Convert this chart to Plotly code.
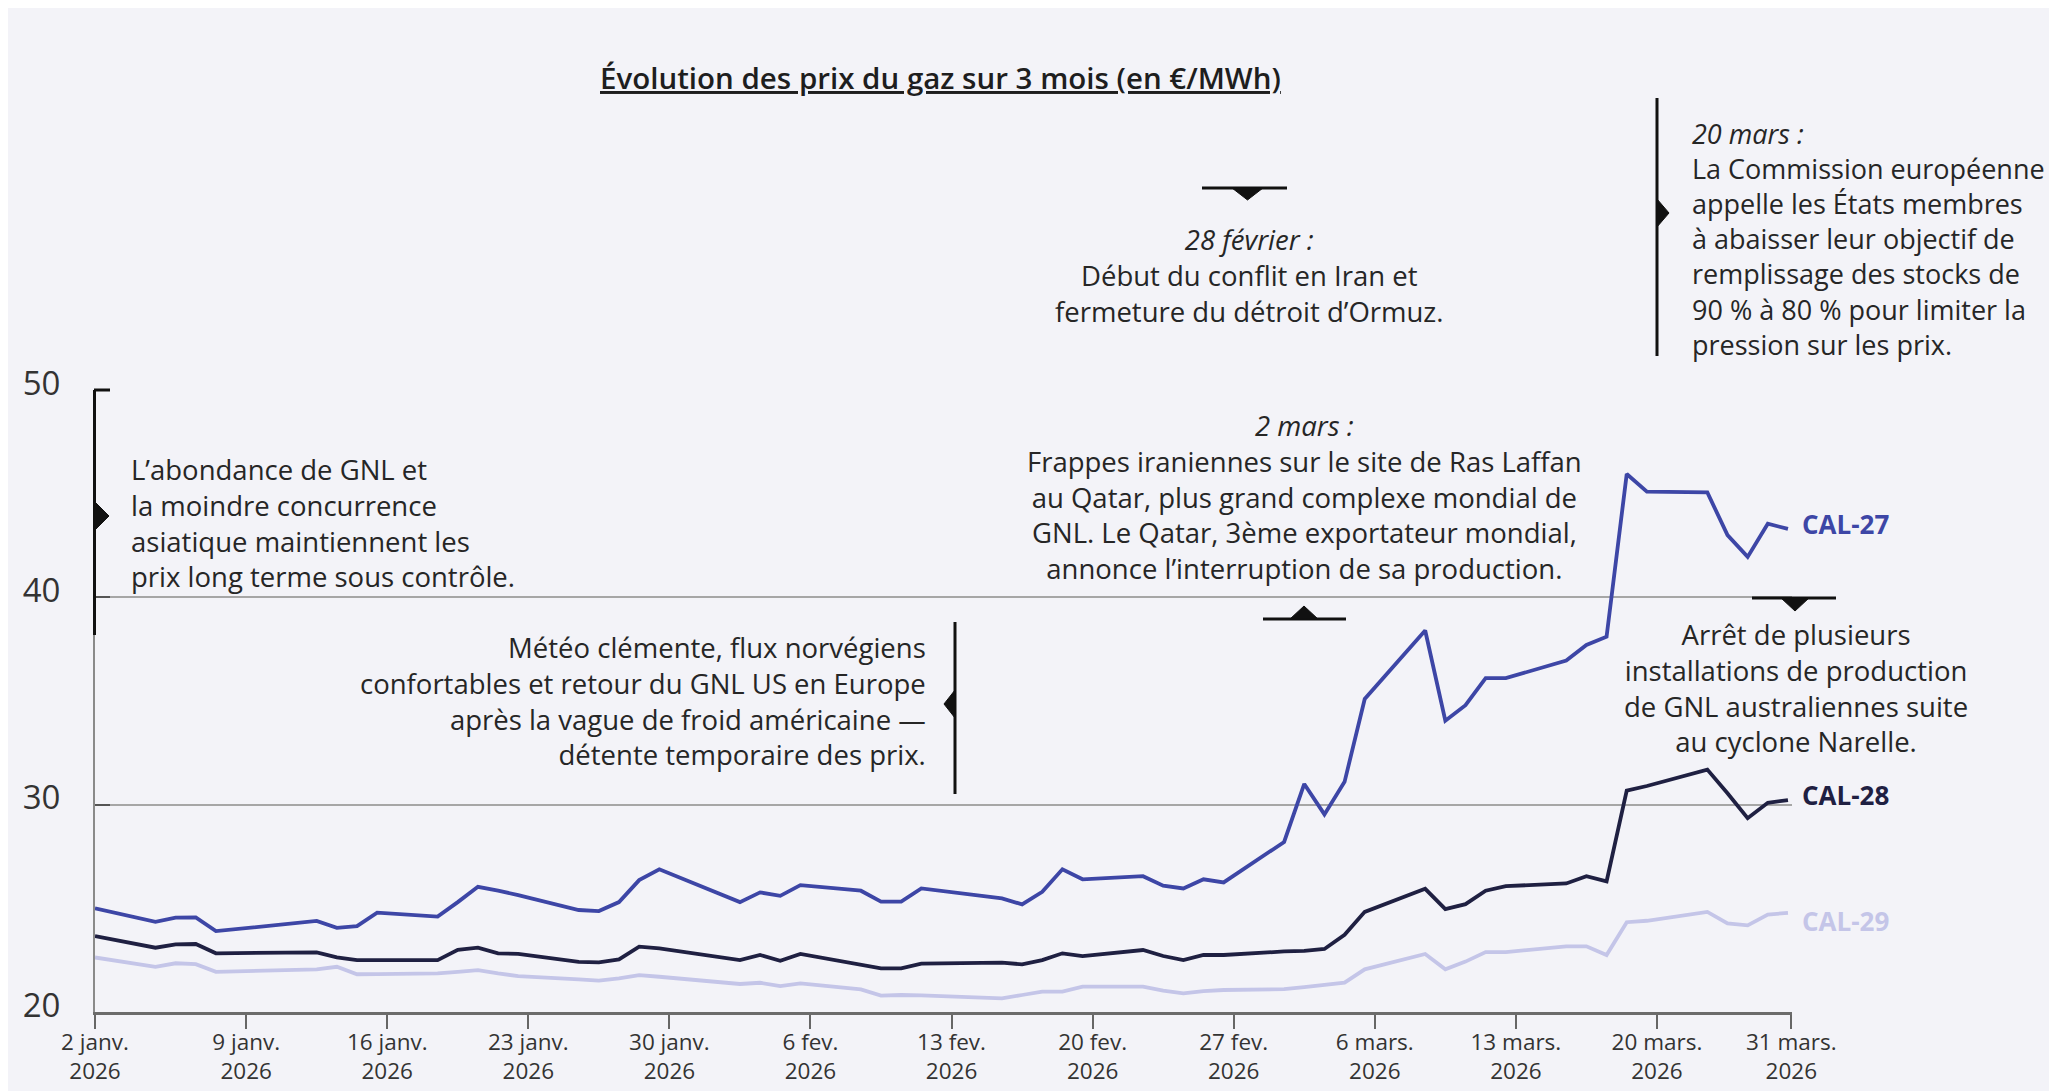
import plotly.graph_objects as go

# --- données ---
dates = ["2026-01-02", "2026-01-05", "2026-01-06", "2026-01-07", "2026-01-08",
         "2026-01-13", "2026-01-14", "2026-01-15", "2026-01-16", "2026-01-19",
         "2026-01-20", "2026-01-21", "2026-01-22", "2026-01-23", "2026-01-26",
         "2026-01-27", "2026-01-28", "2026-01-29", "2026-01-30", "2026-02-03",
         "2026-02-04", "2026-02-05", "2026-02-06", "2026-02-09", "2026-02-10",
         "2026-02-11", "2026-02-12", "2026-02-16", "2026-02-17", "2026-02-18",
         "2026-02-19", "2026-02-20", "2026-02-23", "2026-02-24", "2026-02-25",
         "2026-02-26", "2026-02-27", "2026-03-02", "2026-03-03", "2026-03-04",
         "2026-03-05", "2026-03-06", "2026-03-09", "2026-03-10", "2026-03-11",
         "2026-03-12", "2026-03-13", "2026-03-16", "2026-03-17", "2026-03-18",
         "2026-03-19", "2026-03-20", "2026-03-23", "2026-03-24", "2026-03-25",
         "2026-03-26", "2026-03-27"]

cal27 = [25.0, 24.35, 24.55, 24.56, 23.9, 24.39, 24.06, 24.14, 24.79, 24.6,
         25.3, 26.04, 25.85, 25.64, 24.92, 24.87, 25.3, 26.36, 26.88, 25.3,
         25.77, 25.6, 26.12, 25.85, 25.32, 25.32, 25.96, 25.48, 25.19, 25.8,
         26.88, 26.4, 26.55, 26.09, 25.96, 26.4, 26.25, 28.2, 31.0, 29.53,
         31.1, 35.1, 38.4, 34.05, 34.8, 36.1, 36.1, 36.95, 37.7, 38.1,
         45.95, 45.1, 45.06, 43.0, 41.95, 43.55, 43.3]

cal28 = [23.66, 23.1, 23.26, 23.28, 22.83, 22.88, 22.64, 22.5, 22.5, 22.5,
         23.0, 23.1, 22.83, 22.8, 22.42, 22.39, 22.54, 23.15, 23.07, 22.5,
         22.75, 22.47, 22.8, 22.27, 22.1, 22.1, 22.33, 22.38, 22.3, 22.5,
         22.83, 22.7, 22.99, 22.7, 22.5, 22.75, 22.75, 22.92, 22.95, 23.04,
         23.72, 24.83, 25.94, 24.96, 25.2, 25.85, 26.07, 26.2, 26.55, 26.3,
         30.68, 30.9, 31.69, 30.55, 29.35, 30.09, 30.22]

cal29 = [22.63, 22.18, 22.35, 22.31, 21.94, 22.06, 22.18, 21.82, 21.83, 21.86,
         21.94, 22.02, 21.86, 21.73, 21.57, 21.51, 21.62, 21.78, 21.7, 21.35,
         21.41, 21.25, 21.38, 21.09, 20.79, 20.82, 20.8, 20.66, 20.82, 20.98,
         20.98, 21.22, 21.22, 21.03, 20.9, 21.01, 21.06, 21.1, 21.2, 21.33,
         21.42, 22.06, 22.8, 22.06, 22.43, 22.89, 22.89, 23.17, 23.17, 22.75,
         24.33, 24.4, 24.83, 24.27, 24.18, 24.7, 24.78]

tick_dates = ["2026-01-02", "2026-01-09 12:00", "2026-01-16 12:00", "2026-01-23 12:00",
              "2026-01-30 12:00", "2026-02-06 12:00", "2026-02-13 12:00", "2026-02-20 12:00",
              "2026-02-27 12:00", "2026-03-06 12:00", "2026-03-13 12:00", "2026-03-20 12:00",
              "2026-03-27 04:00"]
tick_labels = ["2 janv.", "9 janv.", "16 janv.", "23 janv.", "30 janv.", "6 fev.",
               "13 fev.", "20 fev.", "27 fev.", "6 mars.", "13 mars.", "20 mars.", "31 mars."]

series = [("CAL-27", cal27, "#3D46A6", 5),
          ("CAL-28", cal28, "#1F2042", 5),
          ("CAL-29", cal29, "#C4C5E8", -8)]

FONT = "'Open Sans', 'Noto Sans', sans-serif"
TXT = "#262626"

# la page ajoute une marge blanche de 8 px : on travaille en pixels de l'image
OFF = 8
W, H = 2057 - OFF, 1091 - OFF
L, R, T, B = 95, 1792, 390, 1012


def fx(p):
    return (p - L) / (R - L)


def fy(p):
    return (B - p) / (B - T)


fig = go.Figure()
for name, vals, color, dy in series:
    fig.add_trace(go.Scatter(x=dates, y=vals, mode="lines", name=name,
                             line=dict(color=color, width=3.8), hoverinfo="skip"))
    fig.add_annotation(x=dates[-1], y=vals[-1], xref="x", yref="y", text="<b>" + name + "</b>",
                       showarrow=False, xanchor="left", xshift=12, yshift=dy,
                       font=dict(family=FONT, size=26, color=color))

# textes d'annotation
notes = [
    ("<i>28 février :</i><br>Début du conflit en Iran et<br>fermeture du détroit d’Ormuz.",
     1249, 275, "center", 27.5),
    ("<i>20 mars :</i><br>La Commission européenne<br>appelle les États membres<br>"
     "à abaisser leur objectif de<br>remplissage des stocks de<br>90 % à 80 % pour limiter la<br>"
     "pression sur les prix.", 1690, 239, "left", 27),
    ("L’abondance de GNL et<br>la moindre concurrence<br>asiatique maintiennent les<br>"
     "prix long terme sous contrôle.", 129, 523, "left", 27.5),
    ("Météo clémente, flux norvégiens<br>confortables et retour du GNL US en Europe<br>"
     "après la vague de froid américaine —<br>détente temporaire des prix.", 928, 701, "right", 27.5),
    ("<i>2 mars :</i><br>Frappes iraniennes sur le site de Ras Laffan<br>"
     "au Qatar, plus grand complexe mondial de<br>GNL. Le Qatar, 3ème exportateur mondial,<br>"
     "annonce l’interruption de sa production.", 1304, 497, "center", 27.5),
    ("Arrêt de plusieurs<br>installations de production<br>de GNL australiennes suite<br>"
     "au cyclone Narelle.", 1796, 688, "center", 27.5),
]
for text, x, y, anchor, size in notes:
    fig.add_annotation(x=fx(x), y=fy(y), xref="paper", yref="paper", text=text,
                       showarrow=False, xanchor=anchor, yanchor="middle", align=anchor,
                       font=dict(family=FONT, size=size, color=TXT))

# titre souligné
fig.add_annotation(x=fx(940), y=fy(77), xref="paper", yref="paper",
                   text="<u>Évolution des prix du gaz sur 3 mois (en €/MWh)</u>",
                   showarrow=False, xanchor="center", yanchor="middle",
                   font=dict(family=FONT, size=29.5, weight=600, color="#1E1E1E"))

shapes = []
# repères (lignes noires + triangles)
lines = [(94.5, 390, 94.5, 635), (94, 390, 110, 390), (955, 622, 955, 794),
         (1202, 188, 1287, 188), (1263, 619, 1346, 619), (1752, 598, 1836, 598),
         (1657, 98, 1657, 356)]
for x0, y0, x1, y1 in lines:
    shapes.append(dict(type="line", xref="paper", yref="paper", x0=fx(x0), y0=fy(y0),
                       x1=fx(x1), y1=fy(y1), line=dict(color="#111111", width=3)))

tris = [[(94, 501), (109, 516), (94, 531)],
        [(955, 690), (944, 704), (955, 718)],
        [(1232, 188), (1263, 188), (1247.5, 200)],
        [(1290, 619), (1318, 619), (1304, 606)],
        [(1781, 598), (1809, 598), (1795, 611)],
        [(1657, 199), (1669, 213), (1657, 227)]]
for pts in tris:
    path = "M " + " L ".join(f"{fx(a):.5f},{fy(b):.5f}" for a, b in pts) + " Z"
    shapes.append(dict(type="path", xref="paper", yref="paper", path=path,
                       fillcolor="#111111", line=dict(color="#111111", width=1)))

fig.update_layout(
    width=W, height=H,
    margin=dict(l=L - OFF, r=2057 - R, t=T - OFF, b=1091 - B),
    paper_bgcolor="#F3F3F8", plot_bgcolor="#F3F3F8",
    showlegend=False, shapes=shapes,
    font=dict(family=FONT, color=TXT),
)
fig.update_xaxes(type="date", range=["2026-01-02", "2026-03-27 04:48"], automargin=False,
                 tickvals=tick_dates, ticktext=[t + "<br>2026" for t in tick_labels],
                 tickangle=0, ticks="outside", ticklen=14, tickwidth=2, tickcolor="#666666",
                 showline=True, linecolor="#6B6B6B", linewidth=3, showgrid=False,
                 zeroline=False, ticklabelstandoff=-6,
                 tickfont=dict(family=FONT, size=22.5, color="#333333"))
fig.update_yaxes(range=[20, 50], tickvals=[20, 30, 40, 50], automargin=False, showgrid=True,
                 gridcolor="#A6A6A6", gridwidth=1.5, showline=True, linecolor="#8A8A8A",
                 linewidth=2, zeroline=False, ticks="inside", ticklen=15, tickwidth=2,
                 tickcolor="#555555", ticklabelstandoff=26, ticklabelshift=-7,
                 tickfont=dict(family=FONT, size=33, color="#333333"))

fig.write_html("out.html")
